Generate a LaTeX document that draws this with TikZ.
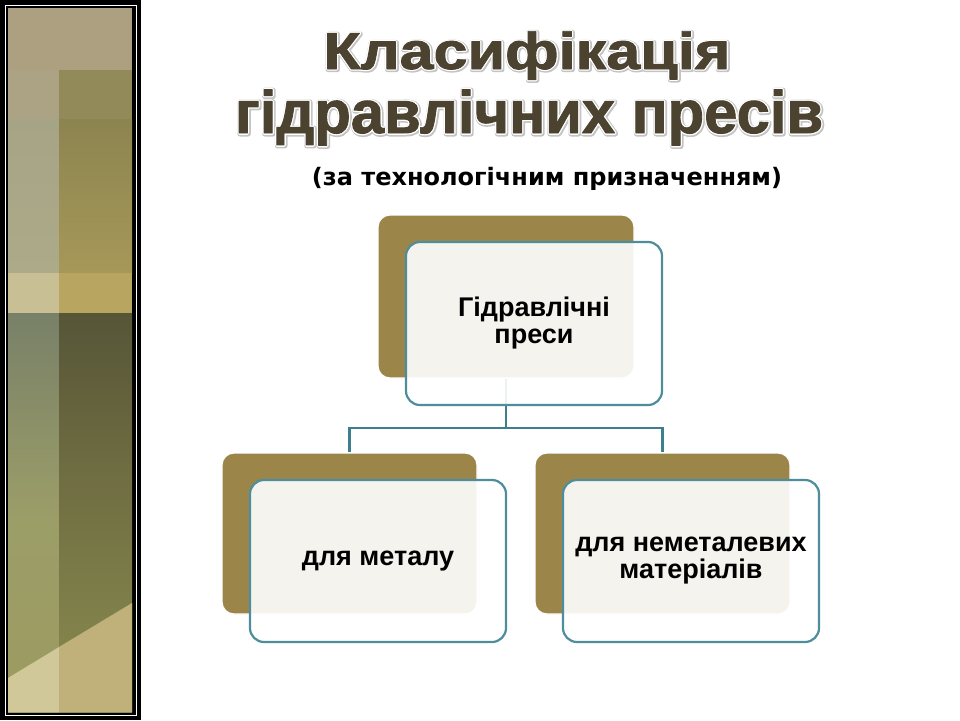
\documentclass[tikz,border=0pt]{standalone}
\usepackage{fontspec}
\usepackage{graphicx}
\setmainfont{Liberation Sans}
\newfontfamily\djv{DejaVu Sans}
\newfontfamily\tfm[FakeBold=1.5]{Liberation Sans Bold}
\newfontfamily\tfw[FakeBold=6]{Liberation Sans Bold}
\newfontfamily\tfg[FakeBold=9]{Liberation Sans Bold}
\definecolor{boxbrown}{HTML}{9C8549}
\definecolor{boxteal}{HTML}{4E8D9B}
\definecolor{conncol}{HTML}{3F7F8D}
\definecolor{titlebrown}{HTML}{4B4230}
\definecolor{tshadow}{HTML}{C4C4C4}
\definecolor{sA}{HTML}{ACA080}
\definecolor{sB}{HTML}{ACA384}
\definecolor{sC}{HTML}{928A58}
\definecolor{sD}{HTML}{C8C094}
\definecolor{sE}{HTML}{B8A560}
\definecolor{sF}{HTML}{D0C898}
\definecolor{sG}{HTML}{C0B07A}
\newcommand\ttl[3]{%
 \rlap{\textcolor{tshadow}{\kern0.8pt\raisebox{-0.8pt}{\resizebox{#1}{\height}{\fontsize{#2}{#2}\selectfont\tfg #3}}}}%
 \rlap{\textcolor{white}{\resizebox{#1}{\height}{\fontsize{#2}{#2}\selectfont\tfw #3}}}%
 \textcolor{titlebrown}{\resizebox{#1}{\height}{\fontsize{#2}{#2}\selectfont\tfm #3}}}
\tikzset{
  backbox/.style={draw=white, line width=1.2pt, fill=boxbrown, rounded corners=12pt, inner sep=0pt},
  frontbox/.style={draw=boxteal, line width=2.2pt, fill=white, fill opacity=0.9, text opacity=1,
     rounded corners=14pt, inner sep=0pt, align=center, text=black,
     font=\fontsize{27pt}{27pt}\selectfont\bfseries},
  conn/.style={draw=conncol, line width=2.2pt},
  titlenode/.style={inner sep=0pt, anchor=base, line join=round}
}
\begin{document}
\begin{tikzpicture}[x=1pt,y=-1pt]
\useasboundingbox (0,0) rectangle (960,720);
\fill[white] (0,0) rectangle (960,720);
% ---- left decorative strip
\fill[black] (0,0) rectangle (141,720);
\draw[white, line width=0.8pt] (5,5) rectangle (136,715);
\fill[black] (7,7) rectangle (134,713);
\fill[sA] (8,8) rectangle (132,70);
\fill[sB] (8,70) rectangle (59,119);
\fill[sC] (59,70) rectangle (132,119);
\shade[top color={rgb,255:red,166;green,164;blue,134}, bottom color={rgb,255:red,172;green,170;blue,136}] (8,119) rectangle (59,273);
\shade[top color={rgb,255:red,140;green,132;blue,80}, bottom color={rgb,255:red,166;green,152;blue,88}] (59,119) rectangle (132,273);
\fill[sD] (8,273) rectangle (59,313);
\fill[sE] (59,273) rectangle (132,313);
\shade[top color={rgb,255:red,120;green,128;blue,104}, bottom color={rgb,255:red,156;green,158;blue,104}] (8,313) rectangle (59,520);
\shade[top color={rgb,255:red,86;green,85;blue,55}, bottom color={rgb,255:red,112;green,110;blue,66}] (59,313) rectangle (132,480);
\shade[top color={rgb,255:red,156;green,158;blue,104}, bottom color={rgb,255:red,156;green,154;blue,96}] (8,520) rectangle (59,712);
\shade[top color={rgb,255:red,112;green,110;blue,66}, bottom color={rgb,255:red,138;green,140;blue,80}] (59,480) rectangle (132,712);
\fill[sF] (8,678) -- (59,647) -- (59,712) -- (8,712) -- cycle;
\fill[sG] (59,647) -- (132,603) -- (132,712) -- (59,712) -- cycle;
% ---- titles
\node[titlenode] (t1) at (527,69) {\ttl{407pt}{52pt}{Класифікація}};
\node[titlenode] (t2) at (529,133) {\ttl{588pt}{60pt}{гідравлічних пресів}};
\node[inner sep=0pt, anchor=base] (sub) at (547,185) {\djv\bfseries\fontsize{24pt}{24pt}\selectfont (за технологічним призначенням)};
% ---- back boxes
\node[backbox, minimum width=256pt, minimum height=163pt] (tb) at (506,296.5) {};
\node[backbox, minimum width=255pt, minimum height=161pt] (lb) at (349.5,533.5) {};
\node[backbox, minimum width=255pt, minimum height=161pt] (rb) at (662.5,533.5) {};
% ---- connectors
\coordinate (j) at (506,428);
\draw[conn] (tb.south) -- (j);
\draw[conn] (lb.north) |- (j) -| (rb.north);
% ---- front boxes
\node[frontbox, minimum width=256pt, minimum height=163pt] (tf) at (534,323.5) {Гідравлічні\\преси};
\node[frontbox, minimum width=256pt, minimum height=162pt] (lf) at (378,561) {для металу};
\node[frontbox, minimum width=256pt, minimum height=162pt] (rf) at (691,561) {для неметалевих\\матеріалів};
\end{tikzpicture}
\end{document}
